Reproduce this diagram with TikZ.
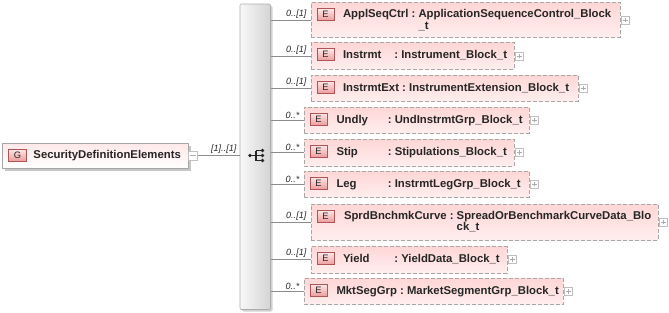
\documentclass[tikz,border=0pt]{standalone}
\usepackage{fontspec}
\setmainfont{Liberation Sans}
\usetikzlibrary{positioning,calc,fit,shadows}
\definecolor{elemline}{HTML}{A8A8A8}
\definecolor{elemtop}{HTML}{FFD6D6}
\definecolor{elembot}{HTML}{FFEEEE}
\definecolor{iconline}{HTML}{B05555}
\definecolor{icontop}{HTML}{FDE8E8}
\definecolor{iconbot}{HTML}{EE9C9C}
\definecolor{connline}{HTML}{8C8C8C}
\definecolor{seqleft}{HTML}{F8F8F8}
\definecolor{seqright}{HTML}{D4D4D4}
\definecolor{labeltext}{HTML}{262626}
\newdimen\pxu \pxu=0.75pt
% name column, padded to a minimum width
\newcommand\ename[1]{\setbox0\hbox{#1\ }\ifdim\wd0<38.5pt\makebox[38.5pt][l]{#1}\else\box0\fi}
\newcommand\etype[2]{\begin{tabular}[t]{@{}l@{}}#1\\#2\end{tabular}}

\begin{document}
\begin{tikzpicture}[
  x=0.75pt, y=-0.75pt,
  elem/.style={
    draw=elemline, dash pattern=on 3pt off 1.5pt,
    top color=elemtop, bottom color=elembot, inner sep=0pt
  },
  gbox/.style={
    draw=gray!70, top color=red!9, bottom color=white, inner sep=0pt,
    drop shadow={shadow xshift=2.2pt, shadow yshift=-2.2pt, fill=black!22, opacity=1}
  },
  seqbar/.style={
    draw=gray!65, left color=seqleft, right color=seqright, inner sep=0pt,
    rounded corners=1pt,
    drop shadow={shadow xshift=1.5pt, shadow yshift=-1.5pt, fill=black!18, opacity=1}
  },
  eicon/.style={
    draw=iconline, top color=icontop, bottom color=iconbot, anchor=north west,
    minimum width=17\pxu, minimum height=12\pxu, inner sep=0pt,
    font=\fontsize{7}{7}\selectfont, text=labeltext
  },
  elabel/.style={font=\fontsize{8.5}{8.8}\selectfont\bfseries, text=labeltext, inner sep=0pt, anchor=base west},
  mult/.style={font=\fontsize{6.8}{7}\selectfont\itshape, text=labeltext, inner sep=0pt,
    anchor=south east, xshift=-4\pxu, yshift=1.5\pxu},
  conn/.style={draw=connline, line width=0.6pt},
  plusbox/.style={
    draw=gray!50, fill=white, minimum size=8\pxu, inner sep=0pt,
    path picture={\draw[gray!65, line width=0.4pt]
      ([xshift=-1.8pt]path picture bounding box.center) -- ([xshift=1.8pt]path picture bounding box.center)
      ([yshift=-1.8pt]path picture bounding box.center) -- ([yshift=1.8pt]path picture bounding box.center);}
  },
  minusbox/.style={
    draw=gray!50, fill=white, minimum size=9\pxu, inner sep=0pt,
    path picture={\draw[gray!65, line width=0.4pt]
      ([xshift=-2pt]path picture bounding box.center) -- ([xshift=2pt]path picture bounding box.center);}
  }
]
  \useasboundingbox (0,0) rectangle (669,312);

  % group and sequence
  \node[seqbar, fit={(240,4) (270.5,309.5)}] (seq) {};
  \node[gbox, fit={(2,143) (188,168)}] (secdef) {};
  \node[eicon, minimum width=18\pxu] (secdef-g) at ($(secdef.north west)+(6.5,6)$) {G};
  \node[elabel] (secdef-t) at ($(secdef.north west)+(31.5,15.5)$) {SecurityDefinitionElements};
  \node[minusbox, right=0pt of secdef] (secdef-minus) {};
  \draw[conn] (secdef-minus.east) -- node[mult, pos=1, xshift=1\pxu] {[1]..[1]} (secdef-minus.east -| seq.west);

  \begin{scope}[shift={(256,155.5)}, line width=0.9pt, labeltext]
    \draw (-6,0) -- (0,0) (0,-5) -- (0,5) (0,-5) -- (6.5,-5) (0,0) -- (6.5,0) (0,5) -- (6.5,5);
    \fill (-6,0) circle (1.4pt) (6.5,-5) circle (1.4pt) (6.5,0) circle (1.4pt) (6.5,5) circle (1.4pt);
  \end{scope}

  % ApplSeqCtrl
  \node[elem, fit={(311,2.7) (620,37.3)}] (appl) {};
  \node[eicon] (appl-e) at ($(appl.north west)+(6,6)$) {E};
  \node[elabel] (appl-t) at ($(appl.north west)+(32,15.5)$)
    {\ename{ApplSeqCtrl}:\ \etype{ApplicationSequenceControl\_Block}{\_t}};
  \node[plusbox, right=1\pxu of appl] (appl-plus) {};
  \draw[conn] (seq.east |- appl.west) -- node[mult, pos=1] {0..[1]} (appl.west);

  % Instrmt
  \node[elem, fit={(311,42.7) (514,69.3)}] (instr) {};
  \node[eicon] (instr-e) at ($(instr.north west)+(6,6)$) {E};
  \node[elabel] (instr-t) at ($(instr.north west)+(32,16.5)$) {\ename{Instrmt}:\ Instrument\_Block\_t};
  \node[plusbox, right=1\pxu of instr] (instr-plus) {};
  \draw[conn] (seq.east |- instr.west) -- node[mult, pos=1] {0..[1]} (instr.west);

  % InstrmtExt
  \node[elem, fit={(311,75) (578,101)}] (instrext) {};
  \node[eicon] (instrext-e) at ($(instrext.north west)+(6,6)$) {E};
  \node[elabel] (instrext-t) at ($(instrext.north west)+(32,16.5)$) {\ename{InstrmtExt}:\ InstrumentExtension\_Block\_t};
  \node[plusbox, right=1\pxu of instrext] (instrext-plus) {};
  \draw[conn] (seq.east |- instrext.west) -- node[mult, pos=1] {0..[1]} (instrext.west);

  % Undly
  \node[elem, fit={(304,107) (529,133)}] (undly) {};
  \node[eicon] (undly-e) at ($(undly.north west)+(6,6)$) {E};
  \node[elabel] (undly-t) at ($(undly.north west)+(32.5,16.5)$) {\ename{Undly}:\ UndInstrmtGrp\_Block\_t};
  \node[plusbox, right=1\pxu of undly] (undly-plus) {};
  \draw[conn] (seq.east |- undly.west) -- node[mult, pos=1] {0..*} (undly.west);

  % Stip
  \node[elem, fit={(304,139) (514,166)}] (stip) {};
  \node[eicon] (stip-e) at ($(stip.north west)+(6,6)$) {E};
  \node[elabel] (stip-t) at ($(stip.north west)+(32.5,16.5)$) {\ename{Stip}:\ Stipulations\_Block\_t};
  \node[plusbox, right=1\pxu of stip] (stip-plus) {};
  \draw[conn] (seq.east |- stip.west) -- node[mult, pos=1] {0..*} (stip.west);

  % Leg
  \node[elem, fit={(304,171) (529,197)}] (leg) {};
  \node[eicon] (leg-e) at ($(leg.north west)+(6,6)$) {E};
  \node[elabel] (leg-t) at ($(leg.north west)+(32.5,16.5)$) {\ename{Leg}:\ InstrmtLegGrp\_Block\_t};
  \node[plusbox, right=1\pxu of leg] (leg-plus) {};
  \draw[conn] (seq.east |- leg.west) -- node[mult, pos=1] {0..*} (leg.west);

  % SprdBnchmkCurve
  \node[elem, fit={(311,204) (658,240)}] (sprd) {};
  \node[eicon] (sprd-e) at ($(sprd.north west)+(6,6)$) {E};
  \node[elabel] (sprd-t) at ($(sprd.north west)+(33,15.5)$)
    {\ename{SprdBnchmkCurve}:\ \etype{SpreadOrBenchmarkCurveData\_Blo}{ck\_t}};
  \node[plusbox, right=1\pxu of sprd] (sprd-plus) {};
  \draw[conn] (seq.east |- sprd.west) -- node[mult, pos=1] {0..[1]} (sprd.west);

  % Yield
  \node[elem, fit={(311,246.5) (507,273)}] (yield) {};
  \node[eicon] (yield-e) at ($(yield.north west)+(6,6)$) {E};
  \node[elabel] (yield-t) at ($(yield.north west)+(32,16.5)$) {\ename{Yield}:\ YieldData\_Block\_t};
  \node[plusbox, right=1\pxu of yield] (yield-plus) {};
  \draw[conn] (seq.east |- yield.west) -- node[mult, pos=1] {0..[1]} (yield.west);

  % MktSegGrp
  \node[elem, fit={(304,278) (563,304.5)}] (mktseg) {};
  \node[eicon] (mktseg-e) at ($(mktseg.north west)+(6,6)$) {E};
  \node[elabel] (mktseg-t) at ($(mktseg.north west)+(32.5,16.5)$) {\ename{MktSegGrp}:\ MarketSegmentGrp\_Block\_t};
  \node[plusbox, right=1\pxu of mktseg] (mktseg-plus) {};
  \draw[conn] (seq.east |- mktseg.west) -- node[mult, pos=1] {0..*} (mktseg.west);
\end{tikzpicture}
\end{document}
